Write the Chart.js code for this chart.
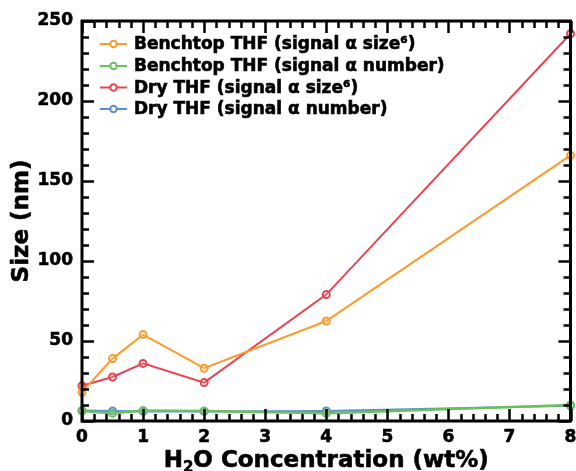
<!DOCTYPE html>
<html>
<head>
<meta charset="utf-8">
<script src="https://cdn.jsdelivr.net/npm/chart.js@4.4.1/dist/chart.umd.min.js"></script>
<style>
  html, body { margin: 0; padding: 0; background: #ffffff; }
  #wrap { width: 576px; height: 471px; position: relative; }
</style>
</head>
<body>
<div id="wrap"><canvas id="chart" width="576" height="471"></canvas></div>
<script>
// H2O concentration (wt%)
const waterWt = [0, 0.5, 1, 2, 4, 8];

// Particle size (nm) for each solvent / weighting
const benchtopSize6  = [18, 39, 54, 33, 62.5, 166];
const benchtopNumber = [6.3, 4.8, 6.5, 6.3, 4.8, 10];
const drySize6       = [22, 27.5, 36, 24, 79, 242];
const dryNumber      = [6.5, 6.3, 6, 6, 6.3, 9.5];

const seriesNames = [
  'Benchtop THF (signal \u03b1 size\u2076)',
  'Benchtop THF (signal \u03b1 number)',
  'Dry THF (signal \u03b1 size\u2076)',
  'Dry THF (signal \u03b1 number)'
];
const seriesColors = ['#ff9a2a', '#6cbf5e', '#e8434f', '#5b8fcc'];

const xTicks = [0, 1, 2, 3, 4, 5, 6, 7, 8];
const yTicks = [0, 50, 100, 150, 200, 250];

const FONT = "'DejaVu Sans', 'Liberation Sans', Arial, sans-serif";
const STROKE = 0.6;

function toPoints(ys) {
  return waterWt.map((x, i) => ({ x: x, y: ys[i] }));
}

function makeSet(label, ys, color, width) {
  return {
    label: label,
    data: toPoints(ys),
    borderColor: color,
    backgroundColor: 'rgba(255,255,255,0)',
    borderWidth: width,
    pointRadius: 3.5,
    pointBorderWidth: 2,
    pointBorderColor: color,
    pointBackgroundColor: 'rgba(255,255,255,0.15)',
    pointHoverRadius: 3.5,
    tension: 0,
    clip: false
  };
}

function heavyText(ctx, text, x, y) {
  ctx.fillText(text, x, y);
  ctx.lineWidth = STROKE;
  ctx.strokeStyle = ctx.fillStyle;
  ctx.strokeText(text, x, y);
}

// Inward ticks on all four sides, frame, legend and axis titles
const frameAndText = {
  id: 'frameAndText',
  afterDatasetsDraw(chart) {
    const ctx = chart.ctx;
    const a = chart.chartArea;
    const xs = chart.scales.x, ys = chart.scales.y;
    ctx.save();
    ctx.strokeStyle = '#000';
    ctx.lineWidth = 2.5;
    ctx.lineCap = 'butt';

    // x ticks: major every 1, minor every 0.2
    for (let i = 0; i <= 40; i++) {
      const v = i * 0.2;
      const px = Math.round(xs.getPixelForValue(v)) + 0.5;
      const len = (i % 5 === 0) ? 12 : 7;
      ctx.beginPath();
      ctx.moveTo(px, a.bottom); ctx.lineTo(px, a.bottom - len);
      ctx.moveTo(px, a.top); ctx.lineTo(px, a.top + len);
      ctx.stroke();
    }
    // y ticks: major every 50, minor every 10
    for (let v = 0; v <= 250; v += 10) {
      const py = Math.round(ys.getPixelForValue(v)) + 0.5;
      const len = (v % 50 === 0) ? 12 : 7;
      ctx.beginPath();
      ctx.moveTo(a.left, py); ctx.lineTo(a.left + len, py);
      ctx.moveTo(a.right, py); ctx.lineTo(a.right - len, py);
      ctx.stroke();
    }
    // frame
    ctx.lineWidth = 3;
    ctx.strokeRect(a.left, a.top, a.right - a.left, a.bottom - a.top);

    // legend
    ctx.font = 'bold 17px ' + FONT;
    ctx.textBaseline = 'middle';
    ctx.textAlign = 'left';
    const rowY = [44, 66, 87.5, 109];
    seriesNames.forEach((name, i) => {
      const y = rowY[i];
      ctx.strokeStyle = seriesColors[i];
      ctx.lineWidth = 2;
      ctx.beginPath();
      ctx.moveTo(100, y); ctx.lineTo(127, y);
      ctx.stroke();
      ctx.beginPath();
      ctx.arc(113.5, y, 3.2, 0, Math.PI * 2);
      ctx.fillStyle = '#fff';
      ctx.fill();
      ctx.stroke();
      ctx.fillStyle = '#000';
      heavyText(ctx, name, 134, y + 1);
    });

    // y-axis title
    ctx.save();
    ctx.translate(22, (a.top + a.bottom) / 2);
    ctx.rotate(-Math.PI / 2);
    ctx.font = 'bold 23px ' + FONT;
    ctx.textAlign = 'center';
    ctx.textBaseline = 'middle';
    ctx.fillStyle = '#000';
    heavyText(ctx, 'Size (nm)', 0, 0);
    ctx.restore();

    // x-axis title with subscript
    const big = 'bold 23px ' + FONT;
    const small = 'bold 15px ' + FONT;
    const parts = [
      { t: 'H', f: big, dy: 0 },
      { t: '2', f: small, dy: 5 },
      { t: 'O Concentration (wt%)', f: big, dy: 0 }
    ];
    let total = 0;
    parts.forEach(p => { ctx.font = p.f; p.w = ctx.measureText(p.t).width; total += p.w; });
    let x = (a.left + a.right) / 2 - total / 2;
    const base = 467;
    ctx.textBaseline = 'alphabetic';
    ctx.fillStyle = '#000';
    parts.forEach(p => { ctx.font = p.f; heavyText(ctx, p.t, x, base + p.dy); x += p.w; });
    ctx.restore();
  }
};

new Chart(document.getElementById('chart'), {
  type: 'line',
  data: {
    datasets: [
      makeSet(seriesNames[0], benchtopSize6, seriesColors[0], 2),
      makeSet(seriesNames[1], benchtopNumber, seriesColors[1], 2.5),
      makeSet(seriesNames[2], drySize6, seriesColors[2], 2),
      makeSet(seriesNames[3], dryNumber, seriesColors[3], 2)
    ]
  },
  options: {
    responsive: false,
    animation: false,
    devicePixelRatio: 1,
    layout: { padding: { top: 21, right: 5, left: 0, bottom: 0 } },
    plugins: { legend: { display: false }, tooltip: { enabled: false } },
    scales: {
      x: {
        type: 'linear',
        min: 0, max: 8,
        afterBuildTicks: s => { s.ticks = xTicks.map(v => ({ value: v })); },
        afterFit: s => { s.height = 50; s.paddingLeft = 0; s.paddingRight = 0; },
        grid: { display: false, drawTicks: false },
        border: { display: false },
        ticks: {
          color: '#000',
          padding: 6,
          maxRotation: 0,
          textStrokeColor: '#000',
          textStrokeWidth: STROKE,
          font: { family: FONT, size: 17, weight: 'bold' }
        }
      },
      y: {
        type: 'linear',
        min: 0, max: 250,
        afterBuildTicks: s => { s.ticks = yTicks.map(v => ({ value: v })); },
        afterFit: s => { s.width = 82; s.paddingTop = 0; s.paddingBottom = 0; },
        grid: { display: false, drawTicks: false },
        border: { display: false },
        ticks: {
          color: '#000',
          padding: 9,
          textStrokeColor: '#000',
          textStrokeWidth: STROKE,
          font: { family: FONT, size: 17, weight: 'bold' }
        }
      }
    }
  },
  plugins: [frameAndText]
});
</script>
</body>
</html>
